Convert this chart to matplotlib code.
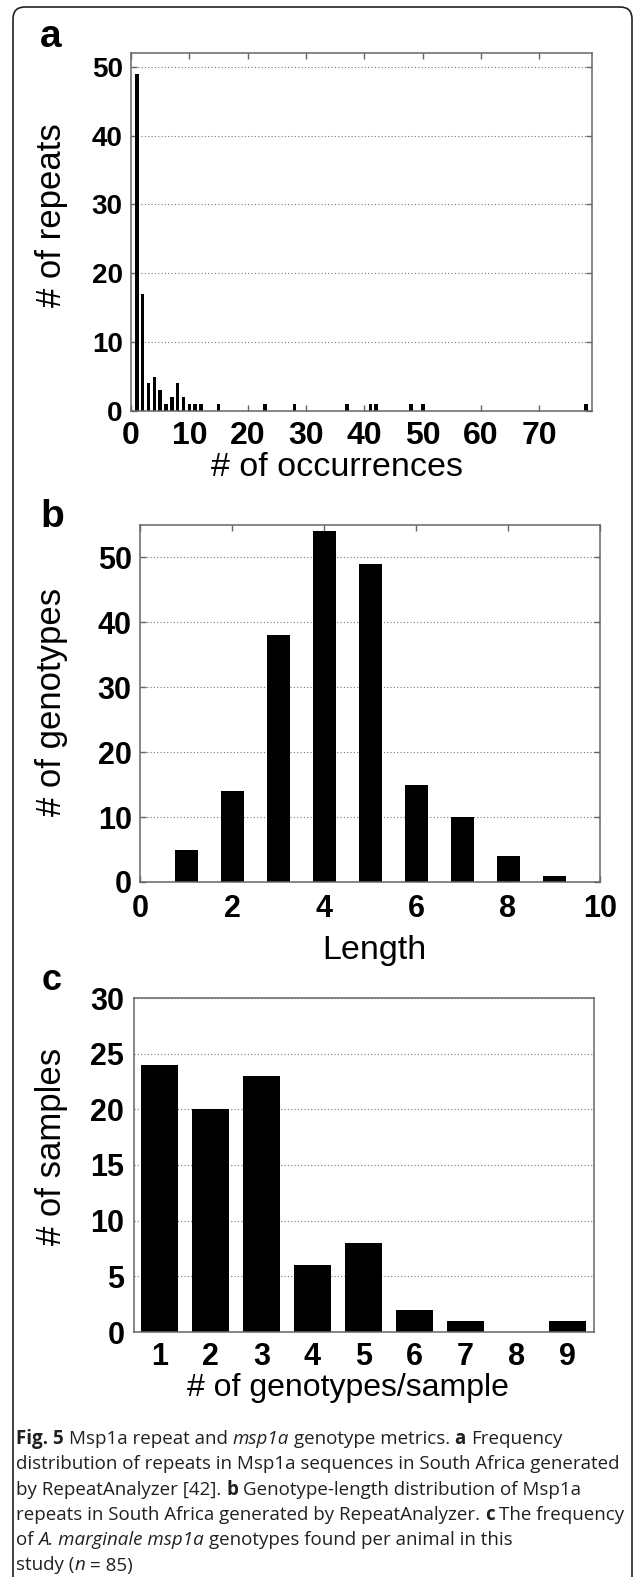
import matplotlib
matplotlib.use("Agg")
import matplotlib.pyplot as plt
from matplotlib.patches import FancyBboxPatch
from matplotlib.font_manager import FontProperties

# panel a: frequency of repeats
occurrences = [1, 2, 3, 4, 5, 6, 7, 8, 9, 10, 11, 12, 15, 23, 28, 37, 41, 42, 48, 50, 78]
n_repeats = [49, 17, 4, 5, 3, 1, 2, 4, 2, 1, 1, 1, 1, 1, 1, 1, 1, 1, 1, 1, 1]

# panel b: genotype length
length = [1, 2, 3, 4, 5, 6, 7, 8, 9]
n_genotypes = [5, 14, 38, 54, 49, 15, 10, 4, 1]

# panel c: genotypes per sample
genos_per_sample = [1, 2, 3, 4, 5, 6, 7, 8, 9]
n_samples = [24, 20, 23, 6, 8, 2, 1, 0, 1]

# caption, one list per line: (text, style) with r=regular b=bold i=italic
caption_lines = [
    [("Fig. 5", "b"), (" Msp1a repeat and ", "r"), ("msp1a", "i"),
     (" genotype metrics. ", "r"), ("a", "b"), (" Frequency", "r")],
    [("distribution of repeats in Msp1a sequences in South Africa generated", "r")],
    [("by RepeatAnalyzer [42]. ", "r"), ("b", "b"), (" Genotype-length distribution of Msp1a", "r")],
    [("repeats in South Africa generated by RepeatAnalyzer. ", "r"), ("c", "b"), (" The frequency", "r")],
    [("of ", "r"), ("A. marginale msp1a", "i"), (" genotypes found per animal in this", "r")],
    [("study (", "r"), ("n", "i"), (" = 85)", "r")],
]

plt.rcParams['font.family'] = ['Liberation Sans', 'DejaVu Sans']

W, H = 634, 1577
fig = plt.figure(figsize=(W / 100, H / 100), dpi=100)
fig.patch.set_facecolor('white')

frame_col = '#666666'
grid_kw = dict(color='#777777', linestyle=(0, (1, 2)), linewidth=0.8)


def add_ax(l, t, r, b):
    return fig.add_axes([l / W, 1 - b / H, (r - l) / W, (b - t) / H])


def ftext(x, y, s, **kw):
    return fig.text(x / W, 1 - y / H, s, **kw)


def style_frame(ax):
    for sp in ax.spines.values():
        sp.set_color(frame_col)
        sp.set_linewidth(1.1)
    ax.set_axisbelow(True)


# outer rounded border
border = FancyBboxPatch((0.13, -0.3), 6.19, 16.0, boxstyle="round,pad=0,rounding_size=0.12",
                        transform=fig.dpi_scale_trans, facecolor='none',
                        edgecolor='#222222', linewidth=1.2)
fig.add_artist(border)

# ---- a
ax = add_ax(131, 53, 592, 411)
ax.bar(occurrences, n_repeats, width=0.6, color='black')
ax.set_xlim(0, 79)
ax.set_ylim(0, 52)
ax.set_xticks(range(0, 71, 10))
ax.set_yticks(range(0, 51, 10))
ax.yaxis.grid(True, **grid_kw)
ax.tick_params(direction='in', top=True, right=True, length=4, color=frame_col, width=1)
ax.tick_params(axis='x', labelsize=23, pad=7)
ax.tick_params(axis='y', labelsize=20, pad=6)
for lab in ax.get_xticklabels() + ax.get_yticklabels():
    lab.set_fontweight('bold')
style_frame(ax)
ftext(40, 47, 'a', fontsize=28, fontweight='bold', va='baseline')
ftext(52, 215, '# of repeats', fontsize=25, rotation=90, ha='center', va='center')
ftext(337, 468, '# of occurrences', fontsize=24.5, ha='center', va='center')

# ---- b
ax = add_ax(140, 525, 600, 882)
ax.bar(length, n_genotypes, width=0.5, color='black')
ax.set_xlim(0, 10)
ax.set_ylim(0, 55)
ax.set_xticks(range(0, 11, 2))
ax.set_yticks(range(0, 51, 10))
ax.yaxis.grid(True, **grid_kw)
ax.tick_params(direction='in', top=True, right=True, length=4, color=frame_col, width=1)
ax.tick_params(axis='x', labelsize=22, pad=9)
ax.tick_params(axis='y', labelsize=22, pad=6)
for lab in ax.get_xticklabels() + ax.get_yticklabels():
    lab.set_fontweight('bold')
style_frame(ax)
ftext(40, 527, 'b', fontsize=28, fontweight='bold', va='baseline')
ftext(52, 702, '# of genotypes', fontsize=25, rotation=90, ha='center', va='center')
ftext(374, 950, 'Length', fontsize=24.5, ha='center', va='center')

# ---- c
ax = add_ax(134, 998, 594, 1332)
ax.bar(genos_per_sample, n_samples, width=0.71, color='black')
ax.set_xlim(0.5, 9.52)
ax.set_ylim(0, 30)
ax.set_xticks(genos_per_sample)
ax.set_yticks(range(0, 31, 5))
ax.yaxis.grid(True, **grid_kw)
ax.tick_params(length=0, labelsize=22)
ax.tick_params(axis='x', pad=7)
ax.tick_params(axis='y', pad=7)
for lab in ax.get_xticklabels() + ax.get_yticklabels():
    lab.set_fontweight('bold')
style_frame(ax)
ftext(42, 990, 'c', fontsize=26, fontweight='bold', va='baseline')
ftext(52, 1146, '# of samples', fontsize=25, rotation=90, ha='center', va='center')
ftext(348, 1388, '# of genotypes/sample', fontsize=23, ha='center', va='center')

# caption, drawn piece by piece so bold/italic can sit inline
cap_size = 13.5
cap_props = {
    'r': FontProperties(family='Open Sans', size=cap_size),
    'b': FontProperties(family='Open Sans', weight='bold', size=cap_size),
    'i': FontProperties(family='Open Sans', style='italic', size=cap_size),
}
renderer = fig.canvas.get_renderer()


def advance(s, fp):
    w1 = renderer.get_text_width_height_descent('|' + s + '|', fp, ismath=False)[0]
    w0 = renderer.get_text_width_height_descent('||', fp, ismath=False)[0]
    return w1 - w0


for i, line in enumerate(caption_lines):
    x = 16
    y = 1444 + 25.3 * i
    for txt, st in line:
        fp = cap_props[st]
        lead = txt[:len(txt) - len(txt.lstrip(' '))]
        body = txt.strip(' ')
        x0 = x + (advance(lead, fp) if lead else 0)
        ftext(x0, y, body, fontproperties=fp, color='#231f20', va='baseline', ha='left')
        x += advance(txt, fp)

fig.savefig('out.png', dpi=100)
